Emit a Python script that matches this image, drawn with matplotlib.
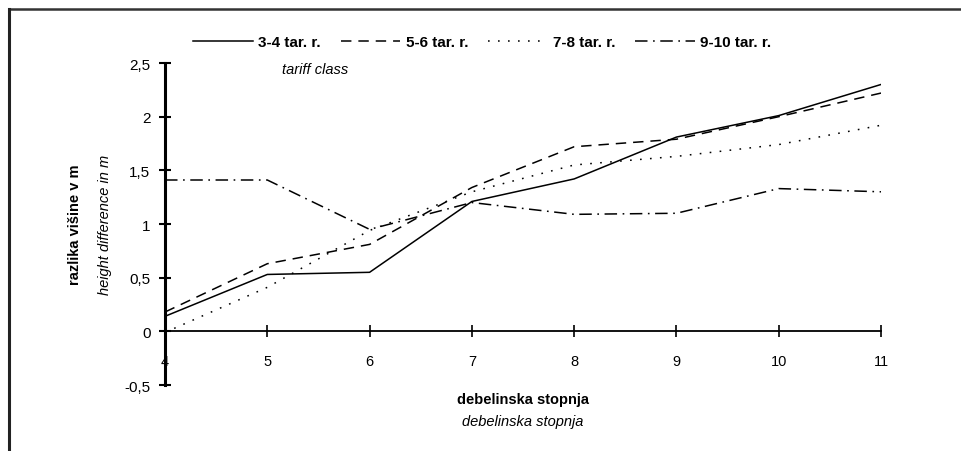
import matplotlib
matplotlib.use("Agg")
import matplotlib.pyplot as plt
from matplotlib.lines import Line2D

# debelinska stopnja (diameter class)
stopnja = [4, 5, 6, 7, 8, 9, 10, 11]

# razlika višine v m, po tarifnih razredih
tar_34 = [0.14, 0.53, 0.55, 1.21, 1.42, 1.81, 2.01, 2.30]
tar_56 = [0.18, 0.63, 0.81, 1.34, 1.72, 1.79, 2.00, 2.22]
tar_78 = [-0.01, 0.41, 0.94, 1.30, 1.55, 1.63, 1.74, 1.92]
tar_910 = [1.41, 1.41, 0.95, 1.20, 1.09, 1.10, 1.33, 1.30]

labels = ["3-4 tar. r.", "5-6 tar. r.", "7-8 tar. r.", "9-10 tar. r."]
y_ticks = [-0.5, 0, 0.5, 1, 1.5, 2, 2.5]
y_tick_labels = ["-0,5", "0", "0,5", "1", "1,5", "2", "2,5"]

plt.rcParams["font.family"] = ["Liberation Sans", "DejaVu Sans"]
plt.rcParams["lines.scale_dashes"] = False

fig = plt.figure(figsize=(9.61, 4.52), dpi=100)
ax = fig.add_axes([0.1717, 0.1460, 0.7451, 0.7124])

styles = [
    dict(linestyle="-"),
    dict(linestyle=(0, (7.5, 5))),
    dict(linestyle=(0, (1.2, 6))),
    dict(linestyle=(0, (9, 4, 1.2, 4))),
]
for ys, lab, st in zip([tar_34, tar_56, tar_78, tar_910], labels, styles):
    ax.plot(stopnja, ys, color="black", lw=1.1, label=lab, **st)

ax.set_xlim(4, 11)
ax.set_ylim(-0.5, 2.5)

# osi: navpična pri x=4, vodoravna pri y=0
for s in ["top", "right"]:
    ax.spines[s].set_visible(False)
ax.spines["left"].set_linewidth(2.2)
ax.spines["bottom"].set_position(("data", 0))
ax.spines["bottom"].set_linewidth(1.3)

ax.set_xticks(stopnja)
ax.set_yticks(y_ticks)
ax.set_yticklabels(y_tick_labels)
ax.tick_params(axis="y", direction="inout", length=9, width=1.5,
               labelsize=11, pad=6)
ax.tick_params(axis="x", direction="inout", length=8, width=1.2,
               labelsize=10.5, pad=12)

ax.text(-0.125, 0.5, "razlika višine v m", transform=ax.transAxes,
        rotation=90, ha="center", va="center", fontsize=10.5, fontweight="bold")
ax.text(-0.084, 0.5, "height difference in m", transform=ax.transAxes,
        rotation=90, ha="center", va="center", fontsize=10.5, style="italic")
ax.text(0.5, -0.043, "debelinska stopnja", transform=ax.transAxes,
        ha="center", va="center", fontsize=10.5, fontweight="bold")
ax.text(0.5, -0.112, "debelinska stopnja", transform=ax.transAxes,
        ha="center", va="center", fontsize=10.5, style="italic")
ax.text(0.21, 0.98, "tariff class", transform=ax.transAxes,
        ha="center", va="center", fontsize=10.5, style="italic")

ax.legend(loc="center", bbox_to_anchor=(0.502, 0.905),
          bbox_transform=fig.transFigure, ncol=4, frameon=False,
          handlelength=3.9, handletextpad=0.35, columnspacing=1.3,
          prop={"size": 11, "weight": "bold"})

# okvir slike (zgoraj in levo)
fig.add_artist(Line2D([0.0094, 1.0], [0.978, 0.978], color="#333333", lw=1.8))
fig.add_artist(Line2D([0.0094, 0.0094], [0.0, 0.978], color="#222222", lw=2.2))

fig.savefig("out.png", dpi=100)
